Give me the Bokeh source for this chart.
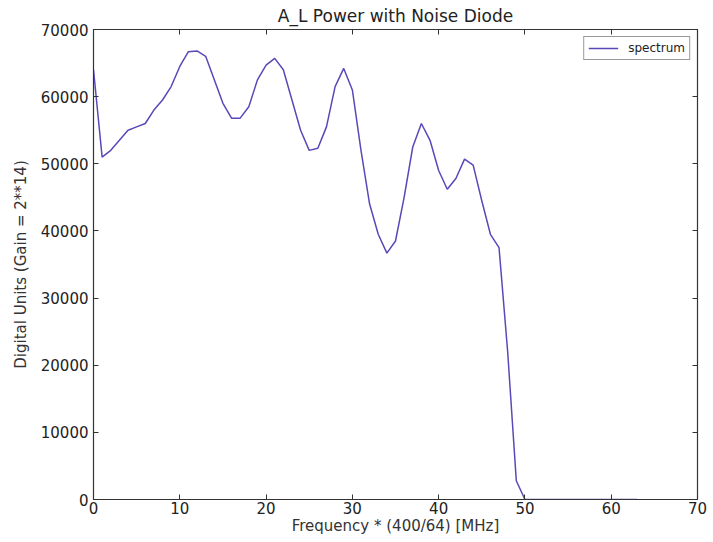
from bokeh.plotting import figure
from bokeh.models import LinearAxis, Range1d, Legend, LegendItem, FixedTicker, ColumnDataSource
from bokeh.embed import file_html
from bokeh.resources import INLINE

freq = list(range(64))
power = [64000, 51000, 52000, 53500, 55000, 55500, 56000, 58000, 59500, 61500,
         64500, 66700, 66800, 66000, 62500, 59000, 56800, 56800, 58500, 62500,
         64700, 65700, 64000, 59500, 55000, 52000, 52300, 55500, 61500, 64200,
         61000, 52000, 44000, 39500, 36700, 38500, 45000, 52500, 56000, 53500,
         49000, 46200, 47800, 50700, 49800, 44500, 39500, 37500, 22000, 2800,
         0, 0, 0, 0, 0, 0, 0, 0, 0, 0, 0, 0, 0, 0]
x_ticks = [0, 10, 20, 30, 40, 50, 60, 70]
y_ticks = [0, 10000, 20000, 30000, 40000, 50000, 60000, 70000]

FONT = "DejaVu Sans"
AX = "#333333"
p = figure(width=713, height=542, output_backend="svg", toolbar_location=None,
           x_range=Range1d(0, 70), y_range=Range1d(0, 70000),
           title="A_L Power with Noise Diode",
           min_border_left=93, min_border_right=16, min_border_top=0, min_border_bottom=43)
p.title.align = "center"
p.title.text_font = FONT
p.title.text_font_size = "17px"
p.title.text_font_style = "normal"
p.title.text_color = "#222222"
p.title.standoff = 7

src = ColumnDataSource(dict(x=freq, y=power))
r = p.line("x", "y", source=src, line_color="#5a48b8", line_width=1.5)

p.grid.visible = False
p.outline_line_color = AX
p.outline_line_width = 1.2

p.xaxis.ticker = FixedTicker(ticks=x_ticks)
p.yaxis.ticker = FixedTicker(ticks=y_ticks)

p.xaxis.axis_label = "Frequency * (400/64) [MHz]"
p.yaxis.axis_label = "Digital Units (Gain = 2**14)"
for ax in p.xaxis + p.yaxis:
    ax.axis_label_text_font = FONT
    ax.axis_label_text_font_style = "normal"
    ax.axis_label_text_color = "#333333"
    ax.axis_label_text_font_size = "15px"
    ax.major_label_text_font = FONT
    ax.major_label_text_font_size = "15px"
    ax.major_label_text_color = "#222222"
    ax.major_tick_in = 5
    ax.major_tick_out = 0
    ax.minor_tick_line_color = None
    ax.axis_line_color = AX
    ax.major_tick_line_color = AX
p.xaxis.major_label_standoff = 2
p.yaxis.major_label_standoff = 5
p.xaxis.axis_label_standoff = 0
p.yaxis.axis_label_standoff = 8

top = LinearAxis(ticker=FixedTicker(ticks=[], minor_ticks=x_ticks),
                 minor_tick_in=5, minor_tick_out=0, major_tick_line_color=None,
                 axis_line_color=AX, minor_tick_line_color=AX)
right = LinearAxis(ticker=FixedTicker(ticks=[], minor_ticks=y_ticks),
                   minor_tick_in=5, minor_tick_out=0, major_tick_line_color=None,
                   axis_line_color=AX, minor_tick_line_color=AX)
p.add_layout(top, "above")
p.add_layout(right, "right")

legend = Legend(items=[LegendItem(label="spectrum", renderers=[r])], location="top_right",
                label_text_font=FONT, label_text_font_size="12px", label_text_color="#222222",
                border_line_color="#333333", border_line_width=1,
                glyph_width=30, glyph_height=12, padding=4, margin=7, spacing=0,
                label_standoff=10, label_height=14)
p.add_layout(legend)

open("out.html", "w").write(file_html(p, INLINE))
